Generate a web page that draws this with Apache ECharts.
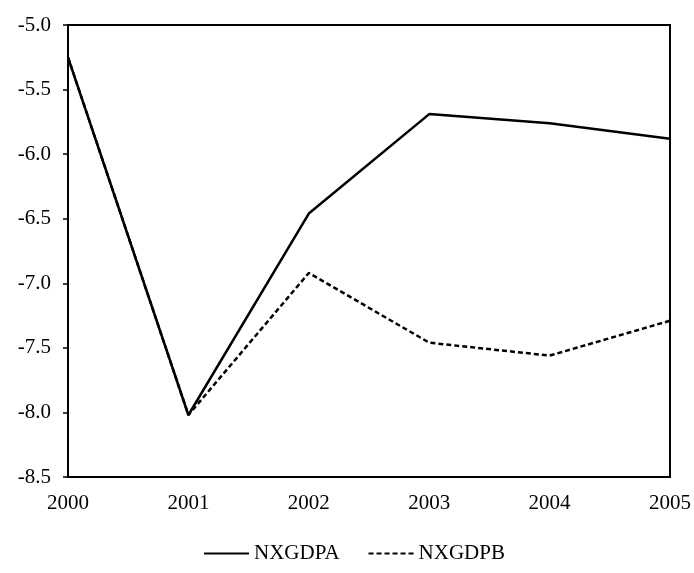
<!DOCTYPE html>
<html><head><meta charset="utf-8">
<script src="https://cdn.jsdelivr.net/npm/echarts@6/dist/echarts.min.js"></script>
<style>html,body{margin:0;padding:0;background:#fff}#c{width:694px;height:573px}</style>
</head><body><div id="c"></div>
<script>
const years = ['2000','2001','2002','2003','2004','2005'];
const nxgdpa = [-5.25, -8.02, -6.46, -5.69, -5.76, -5.88];
const nxgdpb = [-5.25, -8.02, -6.92, -7.46, -7.56, -7.29];
const yTicks = [-8.5, -8.0, -7.5, -7.0, -6.5, -6.0, -5.5, -5.0];

const font = 'Liberation Serif';
const chart = echarts.init(document.getElementById('c'), null, {renderer: 'canvas'});
chart.setOption({
  animation: false,
  backgroundColor: '#fff',
  grid: {left: 68, right: 20, top: 25, bottom: 96, show: true, borderColor: '#000', borderWidth: 2, backgroundColor: 'transparent'},
  xAxis: {
    type: 'category', data: years, boundaryGap: false,
    axisLine: {lineStyle: {color: '#000', width: 2}},
    axisTick: {show: false},
    axisLabel: {color: '#000', fontFamily: font, fontSize: 21, margin: 16,
      formatter: v => v},
    splitLine: {show: false}
  },
  yAxis: {
    type: 'value', min: yTicks[0], max: yTicks[yTicks.length - 1], interval: 0.5,
    axisLine: {show: true, lineStyle: {color: '#000', width: 2}},
    axisTick: {show: true, inside: false, length: 5, lineStyle: {color: '#000', width: 1.5}},
    axisLabel: {color: '#000', fontFamily: font, fontSize: 21, margin: 17,
      formatter: v => v.toFixed(1)},
    splitLine: {show: false}
  },
  legend: {
    bottom: 4, left: 198,
    itemWidth: 45, itemHeight: 12, itemGap: 28,
    textStyle: {color: '#000', fontFamily: font, fontSize: 21},
    itemStyle: {opacity: 0},
    data: ['NXGDPA', 'NXGDPB']
  },
  series: [
    {name: 'NXGDPB', type: 'line', data: nxgdpb, symbol: 'none', z: 2,
     lineStyle: {color: '#000', width: 2.5, type: [5, 3]}, itemStyle: {color: '#000'}},
    {name: 'NXGDPA', type: 'line', data: nxgdpa, symbol: 'none', z: 3,
     lineStyle: {color: '#000', width: 2.5}, itemStyle: {color: '#000'}}
  ]
});
</script></body></html>
